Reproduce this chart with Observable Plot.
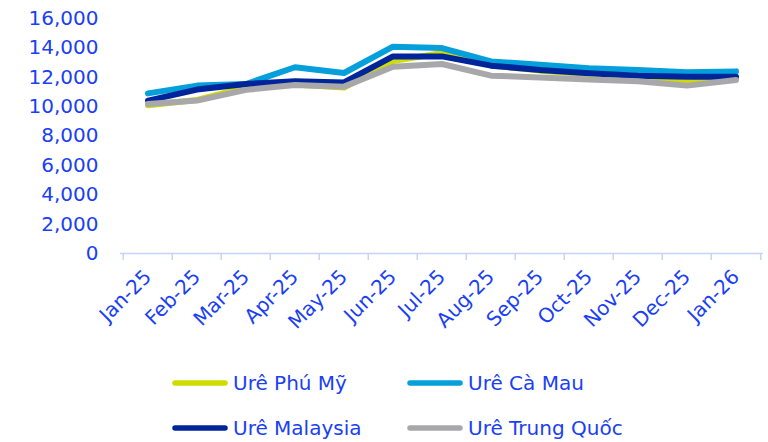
<!DOCTYPE html>
<html>
<head>
<meta charset="utf-8">
<script src="https://cdn.jsdelivr.net/npm/d3@7"></script>
<script src="https://cdn.jsdelivr.net/npm/@observablehq/plot@0.6"></script>
<style>
  html, body { margin: 0; padding: 0; background: #ffffff; }
  #chart { position: relative; width: 768px; height: 442px; font-family: "DejaVu Sans", sans-serif; }
  .legend-item { position: absolute; height: 30px; display: flex; align-items: center; gap: 5px;
    font-size: 20px; color: #1a40f5; white-space: nowrap; }
</style>
</head>
<body>
<div id="chart"></div>
<script>
// Monthly urea prices (VND/kg)
const months = ["Jan-25", "Feb-25", "Mar-25", "Apr-25", "May-25", "Jun-25", "Jul-25",
                "Aug-25", "Sep-25", "Oct-25", "Nov-25", "Dec-25", "Jan-26"];
const phuMy     = [10100, 10450, 11300, 11500, 11300, 13100, 13650, 12800, 12450, 12200, 11900, 11650, 11850];
const caMau     = [10900, 11430, 11540, 12680, 12290, 14080, 13990, 13080, 12860, 12610, 12500, 12340, 12400];
const malaysia  = [10410, 11160, 11540, 11720, 11650, 13420, 13420, 12790, 12500, 12270, 12110, 12040, 12040];
const trungQuoc = [10180, 10410, 11140, 11470, 11360, 12720, 12900, 12110, 11990, 11840, 11720, 11430, 11810];
const yTicks = [0, 2000, 4000, 6000, 8000, 10000, 12000, 14000, 16000];

const seriesNames = ["Urê Phú Mỹ", "Urê Cà Mau", "Urê Malaysia", "Urê Trung Quốc"];
const seriesValues = [phuMy, caMau, malaysia, trungQuoc];
const seriesColors = ["#cfdc00", "#05a0dc", "#00249a", "#a8a8ab"];

const textColor = "#1a40f5";
const axisColor = "#c6d2f7";

const rows = seriesNames.flatMap((name, s) =>
  months.map((m, i) => ({series: name, month: m, value: seriesValues[s][i]})));

const width = 768, height = 355;
const marginLeft = 120, marginRight = 5;
const bandwidth = (width - marginLeft - marginRight) / months.length;

const plot = Plot.plot({
  width, height,
  marginTop: 18, marginRight, marginBottom: height - 253, marginLeft,
  style: {fontFamily: "DejaVu Sans, sans-serif", fontSize: "20px", color: textColor, background: "transparent"},
  x: {type: "band", domain: months, padding: 0, label: null},
  y: {domain: [0, 16000], label: null},
  color: {domain: seriesNames, range: seriesColors},
  marks: [
    Plot.axisY({ticks: yTicks, tickSize: 0, tickPadding: 22, tickFormat: d3.format(","), fill: textColor, label: null}),
    Plot.ruleY([0], {stroke: axisColor, strokeWidth: 1.5}),
    // tick marks sit on the band boundaries
    Plot.axisX({ticks: months, tickSize: 7, tickFormat: () => "", dx: -bandwidth / 2, stroke: axisColor, strokeWidth: 1.5, label: null}),
    Plot.axisX({ticks: months.slice(-1), tickSize: 7, tickFormat: () => "", dx: bandwidth / 2, stroke: axisColor, strokeWidth: 1.5, label: null}),
    Plot.axisX({ticks: months, tickSize: 0, tickRotate: -45, tickPadding: 20, fill: textColor, label: null}),
    Plot.line(rows, {x: "month", y: "value", z: "series", stroke: "series",
      strokeWidth: 6, strokeLinecap: "round", strokeLinejoin: "round"})
  ]
});
const chart = document.getElementById("chart");
chart.appendChild(plot);

// Legend below the chart, two columns of line swatches
const legendPos = [[172, 383], [407, 383], [172, 428], [407, 428]];
seriesNames.forEach((name, i) => {
  const item = document.createElement("div");
  item.className = "legend-item";
  item.style.left = legendPos[i][0] + "px";
  item.style.top = (legendPos[i][1] - 15) + "px";
  item.innerHTML = `<svg width="56" height="8"><line x1="3" y1="4" x2="53" y2="4" stroke="${seriesColors[i]}" stroke-width="5.5" stroke-linecap="round"/></svg><span>${name}</span>`;
  chart.appendChild(item);
});
</script>
</body>
</html>
